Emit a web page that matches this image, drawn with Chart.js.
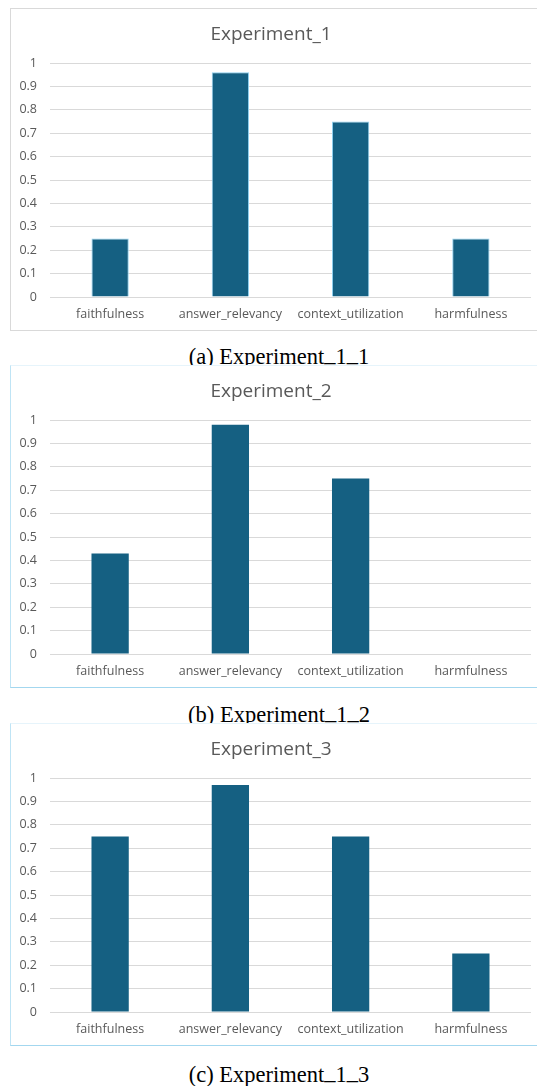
<!DOCTYPE html>
<html>
<head>
<meta charset="utf-8">
<script src="https://cdn.jsdelivr.net/npm/chart.js@4/dist/chart.umd.min.js"></script>
<style>
  html, body { margin:0; padding:0; background:#fff; overflow:hidden; width:537px; height:1086px; }
  .box { position:absolute; left:10px; width:536px; height:321px; background:#fff; z-index:2; }
  .box canvas { position:absolute; left:0; top:0; }
  #b1 { top:8px; border:1px solid #d9d9d9; }
  #b2 { top:365px; border:1px solid #bfe4f5; border-top-color:#e6f4fb; border-bottom-color:#a3d7ef; }
  #b3 { top:723px; border:1px solid #bfe4f5; border-top-color:#e6f4fb; border-bottom-color:#a3d7ef; }
  .cap { position:absolute; left:10px; width:538px; text-align:center; font-family:"Liberation Serif","Times New Roman",serif; font-size:22.5px; color:#000; z-index:1; line-height:1; }
  .cap .u { position:relative; top:-0.12em; }
</style>
</head>
<body>
<div class="box" id="b1"><canvas id="c1" width="536" height="321"></canvas></div>
<div class="cap" style="top:346px">(a) Experiment<span class="u">_</span>1<span class="u">_</span>1</div>
<div class="box" id="b2"><canvas id="c2" width="536" height="321"></canvas></div>
<div class="cap" style="top:704px">(b) Experiment<span class="u">_</span>1<span class="u">_</span>2</div>
<div class="box" id="b3"><canvas id="c3" width="536" height="321"></canvas></div>
<div class="cap" style="top:1064px">(c) Experiment<span class="u">_</span>1<span class="u">_</span>3</div>
<script>
const categories = ["faithfulness", "answer_relevancy", "context_utilization", "harmfulness"];
const titles = ["Experiment_1", "Experiment_2", "Experiment_3"];
const exp1 = [0.25, 0.96, 0.75, 0.25];
const exp2 = [0.43, 0.98, 0.75, 0];
const exp3 = [0.75, 0.97, 0.75, 0.25];
const yTicks = [0, 0.1, 0.2, 0.3, 0.4, 0.5, 0.6, 0.7, 0.8, 0.9, 1];

const FONT = "'Open Sans', 'Liberation Sans', sans-serif";
const GREY = "#595959";

function make(id, title, values, edge) {
  new Chart(document.getElementById(id), {
    type: 'bar',
    data: {
      labels: categories,
      datasets: [{
        data: values,
        backgroundColor: '#156082',
        borderColor: edge ? '#8fd0ee' : '#156082',
        borderWidth: edge ? 1 : 0,
        categoryPercentage: 1,
        barPercentage: 0.31
      }]
    },
    options: {
      responsive: false,
      animation: false,
      layout: { padding: { top: 0, right: 16, bottom: 0, left: 0 } },
      plugins: {
        legend: { display: false },
        tooltip: { enabled: false },
        title: {
          display: true, text: title, color: GREY,
          font: { family: FONT, size: 19, weight: 'normal', lineHeight: 1.2 },
          padding: { top: 14, bottom: 17.2 }
        }
      },
      scales: {
        x: {
          grid: { display: false, drawTicks: false },
          border: { display: false },
          afterFit: (s) => { s.height = 33; },
          ticks: { color: GREY, font: { family: FONT, size: 12.5 }, padding: 10, maxRotation: 0, autoSkip: false }
        },
        y: {
          min: 0, max: 1,
          afterBuildTicks: (s) => { s.ticks = yTicks.map(v => ({ value: v })); },
          afterFit: (s) => { s.width = 39; },
          grid: { color: '#d9d9d9', drawTicks: false, lineWidth: 1 },
          border: { display: false },
          ticks: { color: GREY, font: { family: FONT, size: 12.5 }, padding: 13,
                   callback: (v) => String(Math.round(v * 10) / 10) }
        }
      }
    }
  });
}
make('c1', titles[0], exp1, true);
make('c2', titles[1], exp2, false);
make('c3', titles[2], exp3, false);
</script>
</body>
</html>
